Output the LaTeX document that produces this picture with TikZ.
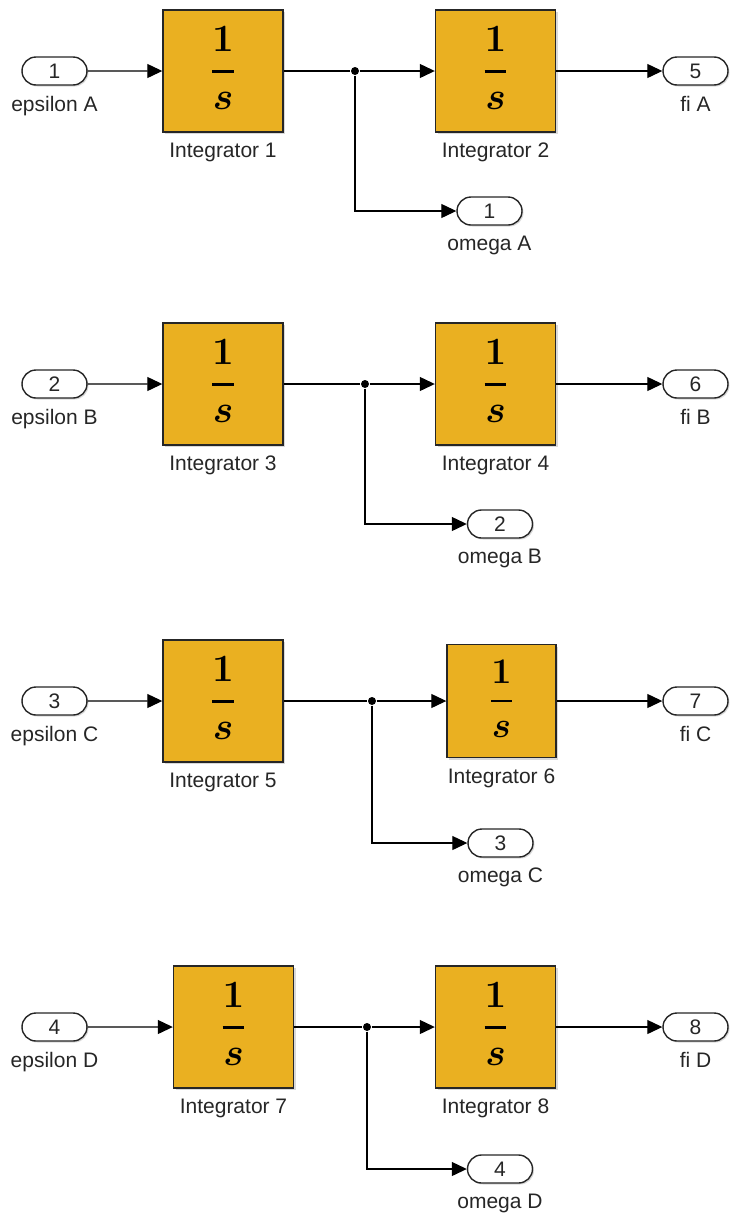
\documentclass[tikz,border=0pt]{standalone}
\usepackage{fontspec}
\setmainfont{Liberation Sans}
\usetikzlibrary{arrows.meta,shapes.misc,shadows,positioning}
\definecolor{intfill}{RGB}{234,176,33}
\definecolor{edge}{RGB}{38,38,38}
\newcommand{\oneovers}[1][1.55]{\raisebox{2.5pt}[\height][\depth]{\scalebox{#1}{\fontsize{24.88}{30}\selectfont\boldmath$\displaystyle{1\above 1.8pt s}$}}}

\begin{document}
\begin{tikzpicture}
[x=1pt,y=1pt,line width=1.2pt,node distance=10pt,
every node/.style={font=\fontsize{21}{25}\selectfont,text=edge},
integ/.style={shape=rectangle,draw=edge,fill=intfill,line width=1.4pt,
  minimum width=120pt,minimum height=122pt,inner sep=0pt,text=black,
  drop shadow={shadow xshift=2pt,shadow yshift=-2pt,opacity=0.3}},
port/.style={shape=rounded rectangle,draw=edge,fill=white,line width=1.4pt,
  minimum width=65pt,minimum height=28pt,inner sep=0pt,
  drop shadow={shadow xshift=1.5pt,shadow yshift=-1.5pt,opacity=0.3}},
lbl/.style={inner sep=0pt},
sig/.style={-{Triangle[length=15pt,width=14pt]}},
branch/.style={shape=circle,fill=black,inner sep=0pt,minimum size=8pt}]

\useasboundingbox (0,0) rectangle (729,-1213);

% channel A
\node[port] (inA) at (54.5,-71) {1};
\node[lbl,below=of inA] (inAlbl) {epsilon A};
\node[integ] (int1) at (223,-71) {\oneovers};
\node[lbl,below=of int1] (int1lbl) {Integrator 1};
\node[branch] (brA) at (355,-71) {};
\node[integ] (int2) at (495.5,-71) {\oneovers};
\node[lbl,below=of int2] (int2lbl) {Integrator 2};
\node[port] (fiA) at (695.5,-71) {5};
\node[lbl,below=of fiA] (fiAlbl) {fi A};
\node[port] (omA) at (489.5,-211) {1};
\node[lbl,below=of omA] (omAlbl) {omega A};
\draw[sig] (inA) -- (int1);
\draw (int1) -- (brA);
\draw[sig] (brA) -- (int2);
\draw[sig] (int2) -- (fiA);
\draw[sig] (brA) |- (omA);

% channel B
\node[port] (inB) at (54.5,-384) {2};
\node[lbl,below=of inB] (inBlbl) {epsilon B};
\node[integ] (int3) at (223,-384) {\oneovers};
\node[lbl,below=of int3] (int3lbl) {Integrator 3};
\node[branch] (brB) at (365,-384) {};
\node[integ] (int4) at (495.5,-384) {\oneovers};
\node[lbl,below=of int4] (int4lbl) {Integrator 4};
\node[port] (fiB) at (695.5,-384) {6};
\node[lbl,below=of fiB] (fiBlbl) {fi B};
\node[port] (omB) at (500,-524) {2};
\node[lbl,below=of omB] (omBlbl) {omega B};
\draw[sig] (inB) -- (int3);
\draw (int3) -- (brB);
\draw[sig] (brB) -- (int4);
\draw[sig] (int4) -- (fiB);
\draw[sig] (brB) |- (omB);

% channel C
\node[port] (inC) at (54.5,-701) {3};
\node[lbl,below=of inC] (inClbl) {epsilon C};
\node[integ] (int5) at (223,-701) {\oneovers};
\node[lbl,below=of int5] (int5lbl) {Integrator 5};
\node[branch] (brC) at (372,-701) {};
\node[integ,minimum width=109pt,minimum height=113pt] (int6) at (501.5,-701) {\oneovers[1.45]};
\node[lbl,below=of int6] (int6lbl) {Integrator 6};
\node[port] (fiC) at (695.5,-701) {7};
\node[lbl,below=of fiC] (fiClbl) {fi C};
\node[port] (omC) at (500.5,-843) {3};
\node[lbl,below=of omC] (omClbl) {omega C};
\draw[sig] (inC) -- (int5);
\draw (int5) -- (brC);
\draw[sig] (brC) -- (int6);
\draw[sig] (int6) -- (fiC);
\draw[sig] (brC) |- (omC);

% channel D
\node[port] (inD) at (54.5,-1027) {4};
\node[lbl,below=of inD] (inDlbl) {epsilon D};
\node[integ] (int7) at (233.5,-1027) {\oneovers};
\node[lbl,below=of int7] (int7lbl) {Integrator 7};
\node[branch] (brD) at (367,-1027) {};
\node[integ] (int8) at (495.5,-1027) {\oneovers};
\node[lbl,below=of int8] (int8lbl) {Integrator 8};
\node[port] (fiD) at (695.5,-1027) {8};
\node[lbl,below=of fiD] (fiDlbl) {fi D};
\node[port] (omD) at (500,-1169) {4};
\node[lbl,below=of omD] (omDlbl) {omega D};
\draw[sig] (inD) -- (int7);
\draw (int7) -- (brD);
\draw[sig] (brD) -- (int8);
\draw[sig] (int8) -- (fiD);
\draw[sig] (brD) |- (omD);
\end{tikzpicture}
\end{document}
